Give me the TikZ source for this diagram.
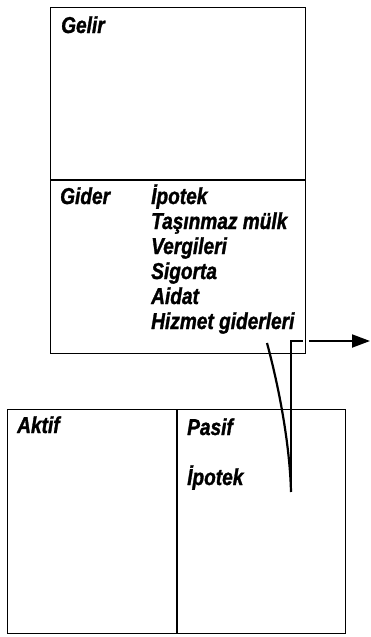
\documentclass[tikz,border=0pt]{standalone}
\usepackage{fontspec}
\newfontfamily\lblfont{Liberation Sans Bold Italic}[FakeStretch=0.83,FakeBold=1.3]
\usetikzlibrary{arrows.meta}

\begin{document}
\begin{tikzpicture}
  [x=1pt,y=-1pt,
   box/.style={draw,line width=1.4pt,rectangle,inner sep=0,anchor=north west},
   lbl/.style={inner sep=0,anchor=base west,font=\lblfont\fontsize{23}{25}\selectfont},
   link/.style={line width=2.2pt}]
  \useasboundingbox (0,0) rectangle (371,637);
  % the two tables
  \node[box,minimum width=255pt,minimum height=346pt] (inc) at (50,7) {};
  \node[box,minimum width=338pt,minimum height=224pt] (bal) at (7,409) {};
  \draw[line width=1.4pt] (inc.west |- 0,180) -- (inc.east |- 0,180);
  \draw[line width=1.4pt] (177,0 |- bal.north) -- (177,0 |- bal.south);
  % labels
  \node[lbl] (gelir) at (61,33) {Gelir};
  \node[lbl] (gider) at (60,204) {Gider};
  \foreach \txt [count=\i] in {İpotek,Taşınmaz mülk,Vergileri,Sigorta,Aidat,Hizmet giderleri}
    \node[lbl] (g\i) at (151,{204+25*(\i-1)}) {\txt};
  \node[lbl] (aktif) at (17,433) {Aktif};
  \node[lbl] (pasif) at (187,435) {Pasif};
  \node[lbl] (ipotek) at (187,485) {İpotek};
  % links
  \coordinate (corner) at (291,341);
  \coordinate (end) at (291,492);
  \coordinate (hz) at (267,343);
  \coordinate (out) at (370,341);
  \draw[link] (end) -- (corner) -- ([xshift=-3pt]inc.east |- corner);
  \draw[link] (hz) .. controls (281,395) and (290,450) .. (end);
  \draw[line width=2pt,-{Triangle[length=18pt,width=13pt]}]
    ([xshift=3pt]inc.east |- corner) -- (out);
\end{tikzpicture}
\end{document}
